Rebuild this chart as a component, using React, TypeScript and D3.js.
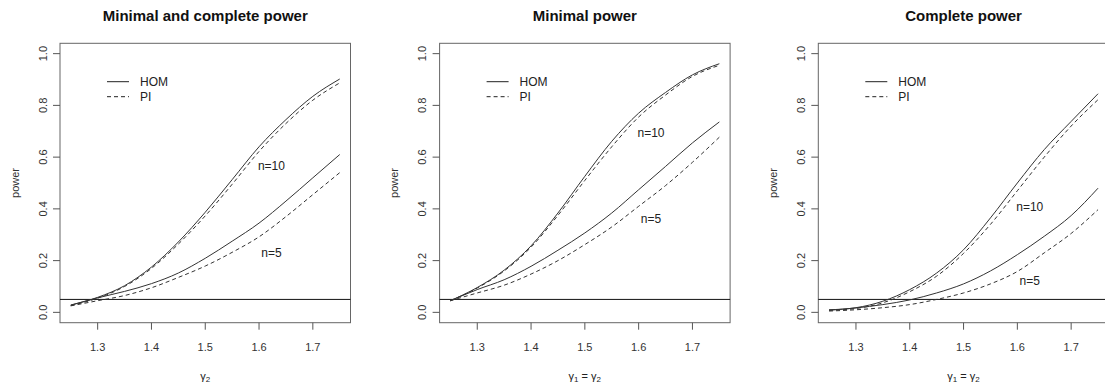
import React from "react";
import * as d3 from "d3";

const gammaValues = [1.25, 1.3, 1.35, 1.4, 1.45, 1.5, 1.55, 1.6, 1.65, 1.7, 1.75];

const p1Hom10 = [0.028, 0.058, 0.103, 0.175, 0.272, 0.387, 0.513, 0.64, 0.745, 0.835, 0.902];
const p1Pi10 = [0.026, 0.055, 0.1, 0.17, 0.264, 0.373, 0.495, 0.622, 0.73, 0.82, 0.887];
const p1Hom5 = [0.028, 0.056, 0.081, 0.111, 0.152, 0.209, 0.275, 0.345, 0.43, 0.52, 0.61];
const p1Pi5 = [0.025, 0.045, 0.065, 0.095, 0.135, 0.179, 0.232, 0.292, 0.37, 0.455, 0.54];

const p2Hom10 = [0.045, 0.096, 0.163, 0.257, 0.384, 0.526, 0.661, 0.77, 0.85, 0.918, 0.961];
const p2Pi10 = [0.045, 0.094, 0.16, 0.252, 0.375, 0.51, 0.64, 0.755, 0.84, 0.912, 0.955];
const p2Hom5 = [0.045, 0.088, 0.126, 0.178, 0.24, 0.307, 0.384, 0.474, 0.564, 0.655, 0.736];
const p2Pi5 = [0.045, 0.075, 0.105, 0.148, 0.2, 0.262, 0.33, 0.41, 0.49, 0.58, 0.677];

const p3Hom10 = [0.01, 0.018, 0.043, 0.088, 0.152, 0.242, 0.365, 0.5, 0.629, 0.738, 0.845];
const p3Pi10 = [0.008, 0.015, 0.037, 0.08, 0.14, 0.228, 0.34, 0.47, 0.6, 0.72, 0.822];
const p3Hom5 = [0.008, 0.017, 0.03, 0.048, 0.075, 0.11, 0.16, 0.223, 0.294, 0.374, 0.48];
const p3Pi5 = [0.005, 0.01, 0.018, 0.03, 0.05, 0.075, 0.11, 0.158, 0.23, 0.305, 0.397];

const xTicks = [1.3, 1.4, 1.5, 1.6, 1.7];
const yTicks = [0.0, 0.2, 0.4, 0.6, 0.8, 1.0];
const legendLabels = ["HOM", "PI"];
const titles = ["Minimal and complete power", "Minimal power", "Complete power"];
const xLabelKinds = ["g2", "g1g2", "g1g2"];
const nLabelPos = [
  { n10: 0.568, n5: 0.23 },
  { n10: 0.693, n5: 0.361 },
  { n10: 0.407, n5: 0.1225 },
];
const nLabelX = 1.623;
const alphaLevel = 0.05;

const panels = [
  { left: 60, hom10: p1Hom10, pi10: p1Pi10, hom5: p1Hom5, pi5: p1Pi5 },
  { left: 439.6, hom10: p2Hom10, pi10: p2Pi10, hom5: p2Hom5, pi5: p2Pi5 },
  { left: 818.3, hom10: p3Hom10, pi10: p3Pi10, hom5: p3Hom5, pi5: p3Pi5 },
];

const TOP = 43.3;
const BOTTOM = 322.7;
const PW = 290.5;
const FONT = "'Liberation Sans', Arial, sans-serif";
const DASH = "4,3";

function XLabel({ kind, x, y }: { kind: string; x: number; y: number }) {
  if (kind === "g2") {
    return (
      <text x={x} y={y} textAnchor="middle" fontSize={11} fontFamily={FONT} fill="#222">
        γ<tspan fontSize={8} dy={2}>2</tspan>
      </text>
    );
  }
  return (
    <text x={x} y={y} textAnchor="middle" fontSize={11} fontFamily={FONT} fill="#222">
      γ<tspan fontSize={8} dy={2}>1</tspan>
      <tspan dy={-2}> = γ</tspan>
      <tspan fontSize={8} dy={2}>2</tspan>
    </text>
  );
}

function Panel({ idx }: { idx: number }) {
  const p = panels[idx];
  const x = d3.scaleLinear().domain([1.23, 1.77]).range([p.left, p.left + PW]);
  const y = d3.scaleLinear().domain([-0.04, 1.04]).range([BOTTOM, TOP]);
  const line = d3
    .line<number>()
    .x((_, i) => x(gammaValues[i]))
    .y((v) => y(v))
    .curve(d3.curveMonotoneX);
  const cx = p.left + PW / 2;
  const legX = p.left + 47;
  const series = [
    { d: p.hom10, dash: undefined },
    { d: p.pi10, dash: DASH },
    { d: p.hom5, dash: undefined },
    { d: p.pi5, dash: DASH },
  ];
  return (
    <g>
      <text x={cx} y={21} textAnchor="middle" fontSize={15} fontWeight="bold" fontFamily={FONT} fill="#111">
        {titles[idx]}
      </text>
      <rect x={p.left} y={TOP} width={PW} height={BOTTOM - TOP} fill="none" stroke="#666" strokeWidth={1} />
      {yTicks.map((t) => (
        <g key={"y" + t}>
          <line x1={p.left - 7} x2={p.left} y1={y(t)} y2={y(t)} stroke="#555" />
          <text
            transform={`translate(${p.left - 17},${y(t)}) rotate(-90)`}
            textAnchor="middle"
            dy="0.35em"
            fontSize={11}
            fontFamily={FONT}
            fill="#333"
          >
            {t.toFixed(1)}
          </text>
        </g>
      ))}
      {xTicks.map((t) => (
        <g key={"x" + t}>
          <line x1={x(t)} x2={x(t)} y1={BOTTOM} y2={BOTTOM + 7} stroke="#555" />
          <text x={x(t)} y={347} textAnchor="middle" dy="0.35em" fontSize={11} fontFamily={FONT} fill="#333">
            {t.toFixed(1)}
          </text>
        </g>
      ))}
      <text
        transform={`translate(${p.left - 45},${(TOP + BOTTOM) / 2}) rotate(-90)`}
        textAnchor="middle"
        dy="0.35em"
        fontSize={11}
        fontFamily={FONT}
        fill="#333"
      >
        power
      </text>
      <XLabel kind={xLabelKinds[idx]} x={cx} y={380} />
      <line x1={p.left} x2={p.left + PW} y1={y(alphaLevel)} y2={y(alphaLevel)} stroke="#111" strokeWidth={1} />
      {series.map((s, i) => (
        <path key={i} d={line(s.d) || ""} fill="none" stroke="#333" strokeWidth={1} strokeDasharray={s.dash} />
      ))}
      {legendLabels.map((l, i) => (
        <g key={l}>
          <line
            x1={legX}
            x2={legX + 22}
            y1={81.7 + i * 15}
            y2={81.7 + i * 15}
            stroke="#222"
            strokeDasharray={i === 1 ? DASH : undefined}
          />
          <text x={legX + 33} y={81.7 + i * 15} dy="0.35em" fontSize={12} fontFamily={FONT} fill="#222">
            {l}
          </text>
        </g>
      ))}
      <text x={x(nLabelX)} y={y(nLabelPos[idx].n10)} textAnchor="middle" dy="0.35em" fontSize={12} fontFamily={FONT} fill="#222">
        n=10
      </text>
      <text x={x(nLabelX)} y={y(nLabelPos[idx].n5)} textAnchor="middle" dy="0.35em" fontSize={12} fontFamily={FONT} fill="#222">
        n=5
      </text>
    </g>
  );
}

export default function App() {
  return (
    <svg
      width={1105}
      height={387}
      style={{ position: "absolute", left: 0, top: 0, display: "block", background: "#fff" }}
    >
      <rect width={1105} height={387} fill="#fff" />
      {panels.map((_, i) => (
        <Panel key={i} idx={i} />
      ))}
    </svg>
  );
}
